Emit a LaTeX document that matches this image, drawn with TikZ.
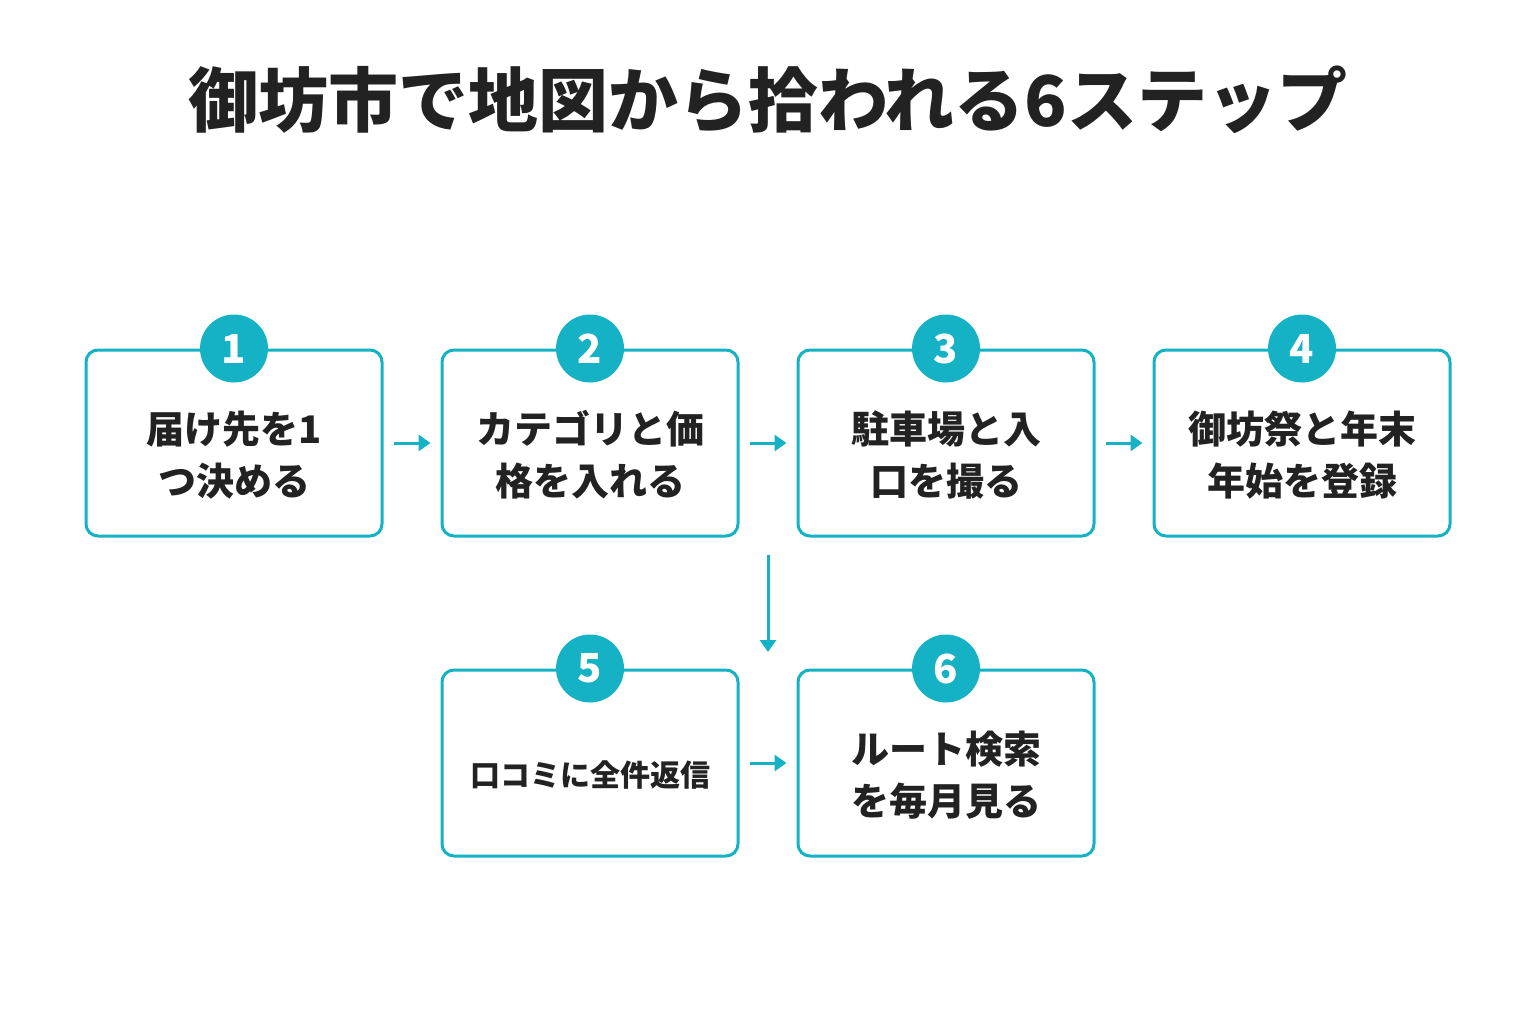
\documentclass[tikz,border=0pt]{standalone}
\usepackage{fontspec}
\newfontfamily\cjk{Noto Sans CJK JP}
\usetikzlibrary{arrows.meta}
\definecolor{teal}{HTML}{14B2C4}
\definecolor{ink}{HTML}{222222}
\begin{document}
\begin{tikzpicture}[x=1pt,y=-1pt,
 box/.style={draw=teal,line width=3pt,rounded corners=12pt,minimum width=296pt,minimum height=186pt,fill=white,inner sep=0pt},
 txt/.style={font=\cjk\bfseries\fontsize{38}{52}\selectfont,text=ink,align=center},
 num/.style={circle,fill=teal,minimum size=68pt,inner sep=0pt,text=white,font=\cjk\bfseries\fontsize{40}{40}\selectfont},
 arr/.style={draw=teal,line width=3pt,-{Triangle[length=12pt,width=16pt]}}]
\useasboundingbox (0,0) rectangle (1536,1024);
\node[font=\cjk\bfseries\fontsize{70}{70}\selectfont,text=ink] (title) at (768,100) {御坊市で地図から拾われる6ステップ};
\foreach \n/\x/\y/\t in {1/234/443/{届け先を1\\つ決める},2/590/443/{カテゴリと価\\格を入れる},3/946/443/{駐車場と入\\口を撮る},4/1302/443/{御坊祭と年末\\年始を登録},6/946/763/{ルート検索\\を毎月見る}}{
 \node[box] (b\n) at (\x,\y) {};
 \node[txt] (t\n) at (\x,\y+12) {\t};
 \node[num] (c\n) at (b\n.north) {\n};
}
\node[box] (b5) at (590,763) {};
\node[txt,font=\cjk\bfseries\fontsize{30}{40}\selectfont] (t5) at (590,775) {口コミに全件返信};
\node[num] (c5) at (b5.north) {5};
\coordinate (d1) at (768,555); \coordinate (d2) at (768,652);
\path[arr] ([xshift=10pt]b1.east) -- ([xshift=-10pt]b2.west);
\path[arr] ([xshift=10pt]b2.east) -- ([xshift=-10pt]b3.west);
\path[arr] ([xshift=10pt]b3.east) -- ([xshift=-10pt]b4.west);
\path[arr] ([xshift=10pt]b5.east) -- ([xshift=-10pt]b6.west);
\path[arr] (d1) -- (d2);
\end{tikzpicture}
\end{document}
